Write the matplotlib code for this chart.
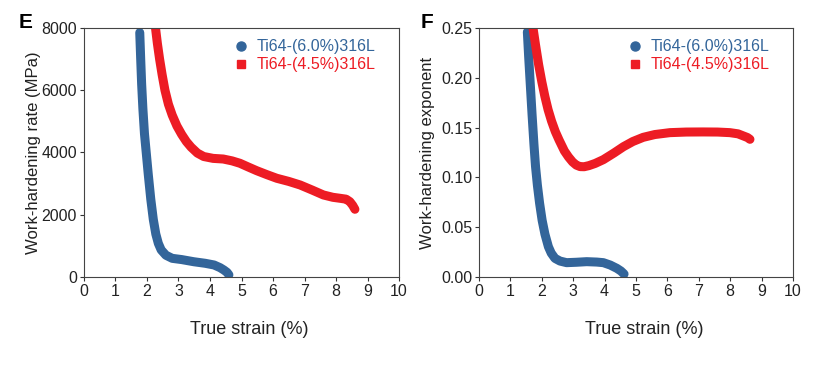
import matplotlib.pyplot as plt
from matplotlib.lines import Line2D

plt.rcParams['font.family'] = ['Liberation Sans', 'DejaVu Sans']

blue = '#33659a'
red = '#ed1c24'
labels = ['Ti64-(6.0%)316L', 'Ti64-(4.5%)316L']

# Panel E: work-hardening rate (MPa) vs true strain (%)
e_blue_x = [1.77, 1.80, 1.83, 1.87, 1.92, 1.98, 2.04, 2.12, 2.20, 2.28, 2.36, 2.45, 2.60,
            2.80, 3.1, 3.49, 3.85, 4.13, 4.32, 4.44, 4.54, 4.60]
e_blue_y = [7850, 7000, 6200, 5400, 4600, 3950, 3300, 2500, 1850, 1380, 1080, 870, 700,
            600, 560, 490, 440, 386, 300, 225, 150, 70]
e_red_x = [2.27, 2.33, 2.40, 2.48, 2.57, 2.68, 2.80, 2.95, 3.10, 3.25, 3.40, 3.60, 3.80,
           4.1, 4.42, 4.70, 4.95, 5.20, 5.48, 5.80, 6.12, 6.50, 6.86, 7.25, 7.60, 7.90,
           8.13, 8.32, 8.44, 8.53, 8.60]
e_red_y = [8000, 7500, 7000, 6500, 6000, 5550, 5200, 4850, 4580, 4350, 4170, 3980, 3870,
           3810, 3790, 3730, 3653, 3540, 3416, 3290, 3171, 3070, 2956, 2790, 2635, 2560,
           2528, 2500, 2419, 2300, 2175]

# Panel F: work-hardening exponent vs true strain (%)
f_blue_x = [1.54, 1.58, 1.63, 1.69, 1.75, 1.80, 1.86, 1.93, 2.01, 2.10, 2.21, 2.30,
            2.42, 2.58, 2.79, 3.1, 3.43, 3.75, 3.96, 4.18, 4.39, 4.52, 4.62]
f_blue_y = [0.246, 0.222, 0.195, 0.163, 0.133, 0.111, 0.092, 0.074, 0.057, 0.043, 0.0304, 0.024,
            0.0187, 0.016, 0.0144, 0.0148, 0.0154, 0.015, 0.0144, 0.012, 0.0087, 0.006, 0.003]
f_red_x = [1.72, 1.80, 1.90, 2.00, 2.10, 2.20, 2.31, 2.43, 2.55, 2.72, 2.85, 2.98, 3.10,
           3.22, 3.35, 3.50, 3.70, 3.96, 4.30, 4.60, 4.90, 5.23, 5.60, 6.08, 6.60, 7.14,
           7.60, 7.99, 8.25, 8.42, 8.55, 8.63]
f_red_y = [0.25, 0.233, 0.213, 0.196, 0.181, 0.168, 0.1565, 0.146, 0.1375, 0.1265, 0.1205, 0.1155, 0.1123,
           0.1108, 0.1107, 0.1118, 0.1140, 0.1178, 0.1245, 0.1308, 0.1360, 0.1402, 0.1430, 0.1449, 0.1455, 0.1456,
           0.1455, 0.1449, 0.1437, 0.1416, 0.140, 0.1382]

fig = plt.figure(figsize=(8.17, 3.69), dpi=100)
ax1 = fig.add_axes([0.1028, 0.2493, 0.3856, 0.675])
ax2 = fig.add_axes([0.5863, 0.2493, 0.3843, 0.675])

panels = [
    (ax1, e_blue_x, e_blue_y, e_red_x, e_red_y, 'Work-hardening rate (MPa)', (0, 8000), [0, 2000, 4000, 6000, 8000], '{:.0f}', 0.5),
    (ax2, f_blue_x, f_blue_y, f_red_x, f_red_y, 'Work-hardening exponent', (0, 0.25), [0, 0.05, 0.10, 0.15, 0.20, 0.25], '{:.2f}', 4),
]

for ax, bx, by, rx, ry, ylab, ylim, yt, fmt, ypad in panels:
    ax.plot(bx, by, color=blue, lw=6.5, solid_capstyle='round', solid_joinstyle='round')
    ax.plot(rx, ry, color=red, lw=6.5, solid_capstyle='round', solid_joinstyle='round')
    ax.set_xlim(0, 10)
    ax.set_ylim(*ylim)
    ax.set_xticks(range(0, 11))
    ax.set_yticks(yt)
    ax.set_yticklabels([fmt.format(v) for v in yt])
    ax.tick_params(labelsize=11.5, length=3, width=0.8, color='#333333', pad=2, labelcolor='#222222')
    for s in ax.spines.values():
        s.set_color('#444444')
        s.set_linewidth(0.8)
    ax.set_xlabel('True strain (%)', fontsize=13, color='#222222')
    ax.xaxis.set_label_coords(0.525, -0.175)
    ax.set_ylabel(ylab, fontsize=12, labelpad=ypad, color='#222222')
    handles = [Line2D([], [], ls='none', marker='o', color=blue, markersize=6.5),
               Line2D([], [], ls='none', marker='s', color=red, markersize=6)]
    ax.legend(handles, labels, loc='upper right', frameon=False, fontsize=11.5,
              labelcolor=[blue, red], handlelength=0.8, handletextpad=0.6,
              borderaxespad=0.3, labelspacing=0.2, bbox_to_anchor=(0.962, 1.0))

fig.text(0.023, 0.925, 'E', fontsize=15, fontweight='bold')
fig.text(0.515, 0.925, 'F', fontsize=15, fontweight='bold')

fig.savefig('out.png', dpi=100)
